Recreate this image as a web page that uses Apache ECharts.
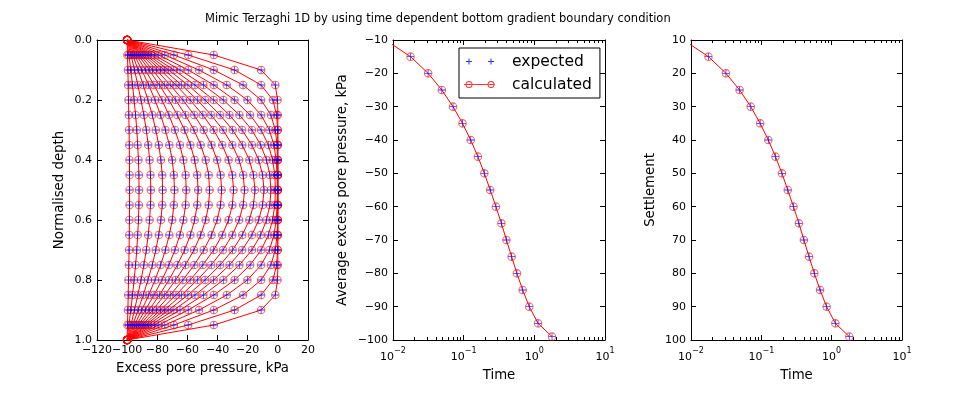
<!DOCTYPE html>
<html><head><meta charset="utf-8">
<script src="https://cdn.jsdelivr.net/npm/echarts@6/dist/echarts.min.js"></script>
<style>html,body{margin:0;padding:0;background:#fff;}#chart{width:960px;height:400px;}</style>
</head><body><div id="chart"></div>
<script>
// ---------- data ----------
const depth = [0,0.05,0.1,0.15,0.2,0.25,0.3,0.35,0.4,0.45,0.5,0.55,0.6,0.65,0.7,0.75,0.8,0.85,0.9,0.95,1.0];
const iso01 = [-100,-42.5,-11.1,-1.7,-0.2,0,0,0,0,0,0,0,0,0,0,0,-0.2,-1.7,-11.1,-42.5,-100];
const iso02 = [-100,-59.5,-28.7,-11.1,-3.3,-0.8,-0.2,0,0,0,0,0,0,0,-0.2,-0.8,-3.3,-11.1,-28.7,-59.5,-100];
const iso03 = [-100,-69.0,-42.5,-23.1,-11.1,-4.6,-1.7,-0.5,-0.2,0,0,0,-0.2,-0.5,-1.7,-4.6,-11.1,-23.1,-42.5,-69.0,-100];
const iso04 = [-100,-75.0,-52.3,-33.9,-20.2,-11.1,-5.6,-2.6,-1.1,-0.5,-0.3,-0.5,-1.1,-2.6,-5.6,-11.1,-20.2,-33.9,-52.3,-75.0,-100];
const iso05 = [-100,-79.0,-59.5,-42.5,-28.7,-18.4,-11.1,-6.3,-3.5,-2.0,-1.6,-2.0,-3.5,-6.3,-11.1,-18.4,-28.7,-42.5,-59.5,-79.0,-100];
const iso06 = [-100,-82.0,-64.9,-49.4,-36.2,-25.5,-17.2,-11.4,-7.5,-5.3,-4.6,-5.3,-7.5,-11.4,-17.2,-25.5,-36.2,-49.4,-64.9,-82.0,-100];
const iso07 = [-100,-84.2,-69.0,-55.0,-42.6,-32.1,-23.7,-17.2,-12.7,-10.1,-9.2,-10.1,-12.7,-17.2,-23.7,-32.1,-42.6,-55.0,-69.0,-84.2,-100];
const iso08 = [-100,-86.0,-72.4,-59.7,-48.3,-38.3,-30.0,-23.6,-18.9,-16.2,-15.2,-16.2,-18.9,-23.6,-30.0,-38.3,-48.3,-59.7,-72.4,-86.0,-100];
const iso09 = [-100,-87.5,-75.3,-63.9,-53.4,-44.2,-36.4,-30.2,-25.7,-23.0,-22.1,-23.0,-25.7,-30.2,-36.4,-44.2,-53.4,-63.9,-75.3,-87.5,-100];
const iso10 = [-100,-88.8,-77.9,-67.6,-58.2,-49.8,-42.6,-36.9,-32.7,-30.2,-29.4,-30.2,-32.7,-36.9,-42.6,-49.8,-58.2,-67.6,-77.9,-88.8,-100];
const iso11 = [-100,-90.1,-80.5,-71.4,-63.0,-55.5,-49.2,-44.0,-40.3,-38.0,-37.3,-38.0,-40.3,-44.0,-49.2,-55.5,-63.0,-71.4,-80.5,-90.1,-100];
const iso12 = [-100,-91.4,-83.1,-75.1,-67.8,-61.3,-55.7,-51.2,-47.9,-45.9,-45.3,-45.9,-47.9,-51.2,-55.7,-61.3,-67.8,-75.1,-83.1,-91.4,-100];
const iso13 = [-100,-92.6,-85.4,-78.6,-72.3,-66.7,-61.9,-58.0,-55.2,-53.5,-52.9,-53.5,-55.2,-58.0,-61.9,-66.7,-72.3,-78.6,-85.4,-92.6,-100];
const iso14 = [-100,-93.9,-87.9,-82.2,-76.9,-72.3,-68.3,-65.0,-62.7,-61.2,-60.8,-61.2,-62.7,-65.0,-68.3,-72.3,-76.9,-82.2,-87.9,-93.9,-100];
const iso15 = [-100,-95.1,-90.3,-85.7,-81.5,-77.8,-74.6,-72.0,-70.1,-69.0,-68.6,-69.0,-70.1,-72.0,-74.6,-77.8,-81.5,-85.7,-90.3,-95.1,-100];
const iso16 = [-100,-96.3,-92.7,-89.3,-86.2,-83.3,-81.0,-79.0,-77.6,-76.7,-76.5,-76.7,-77.6,-79.0,-81.0,-83.3,-86.2,-89.3,-92.7,-96.3,-100];
const iso17 = [-100,-97.5,-95.1,-92.9,-90.8,-88.9,-87.3,-86.0,-85.1,-84.5,-84.3,-84.5,-85.1,-86.0,-87.3,-88.9,-90.8,-92.9,-95.1,-97.5,-100];
const iso18 = [-100,-98.8,-97.6,-96.4,-95.4,-94.4,-93.6,-93.0,-92.5,-92.2,-92.1,-92.2,-92.5,-93.0,-93.6,-94.4,-95.4,-96.4,-97.6,-98.8,-100];
const iso19 = [-100,-99.8,-99.5,-99.3,-99.1,-98.9,-98.7,-98.6,-98.5,-98.4,-98.4,-98.4,-98.5,-98.6,-98.7,-98.9,-99.1,-99.3,-99.5,-99.8,-100];

const times = [0.00785,0.0177,0.0314,0.0491,0.0707,0.0962,0.1257,0.159,0.1963,0.2376,0.2864,0.342,0.403,0.477,0.567,0.684,0.848,1.129,1.781];
const avgExpected   = [-10,-15,-20,-25,-30,-35,-40,-45,-50,-55,-60,-65,-70,-75,-80,-85,-90,-95,-99];
const avgCalculated = [-10,-15,-20,-25,-30,-35,-40,-45,-50,-55,-60,-65,-70,-75,-80,-85,-90,-95,-99];
const settlementExpected   = [10,15,20,25,30,35,40,45,50,55,60,65,70,75,80,85,90,95,99];
const settlementCalculated = [10,15,20,25,30,35,40,45,50,55,60,65,70,75,80,85,90,95,99];
const logMinorTicks = [0.02,0.03,0.04,0.05,0.06,0.07,0.08,0.09,0.2,0.3,0.4,0.5,0.6,0.7,0.8,0.9,2,3,4,5,6,7,8,9];

// ---------- styling ----------
const FONT = 'DejaVu Sans';
const TICK_FS = 11;
const NAME_FS = 13.3;
const PLUS = 'path://M4,0h1v4h4v1h-4v4h-1v-4h-4v-1h4z';
const LEG_PLUS = 'path://M2,4h6v1h-6z M4.5,1.5h1v6h-1z M24,4h6v1h-6z M26.5,1.5h1v6h-1z M42.9,0h0.1v0.1h-0.1z M0,8.9h0.1v0.1h-0.1z';
const LEG_CIRC = 'path://M1.5,4.5a3.5,3.5 0 1,0 7,0a3.5,3.5 0 1,0 -7,0z M2.5,4.5a2.5,2.5 0 1,1 5,0a2.5,2.5 0 1,1 -5,0z ' +
  'M23.5,4.5a3.5,3.5 0 1,0 7,0a3.5,3.5 0 1,0 -7,0z M24.5,4.5a2.5,2.5 0 1,1 5,0a2.5,2.5 0 1,1 -5,0z ' +
  'M0,4h1.5v1h-1.5z M2.6,4h4.8v1h-4.8z M8.5,4h15v1h-15z M24.6,4h4.8v1h-4.8z M30.5,4h0.5v1h-0.5z M42.9,0h0.1v0.1h-0.1z M0,8.9h0.1v0.1h-0.1z';

const minusFmt = v => (v < 0 ? '\u2212' + Math.abs(v) : String(v));
const logFmt = v => { const e = Math.round(Math.log10(v)); return '{b|10}{s|' + (e < 0 ? '\u2212' : '') + Math.abs(e) + '}'; };
const logRich = { b: {fontFamily: FONT, fontSize: TICK_FS, color:'#000', lineHeight: 16, verticalAlign:'bottom'},
                  s: {fontFamily: FONT, fontSize: 8, color:'#000', lineHeight: 8, verticalAlign:'top'} };

function axis(grid, pos, cfg) {
  const main = (pos === 'bottom' || pos === 'left');
  const a = {
    gridIndex: grid, position: pos, type: cfg.type || 'value',
    min: cfg.min, max: cfg.max, inverse: !!cfg.inverse,
    axisLine: {show: true, onZero: false, lineStyle: {color: '#000', width: 1}},
    axisTick: {show: true, inside: true, length: 5, lineStyle: {color: '#000', width: 1}},
    axisLabel: {show: main, color: '#000', fontFamily: FONT, fontSize: TICK_FS, margin: cfg.margin || 5},
    splitLine: {show: false},
    name: main ? cfg.name : '', nameLocation: 'middle', nameGap: cfg.nameGap,
    nameTextStyle: {fontFamily: FONT, fontSize: NAME_FS, color: '#000'}
  };
  if (cfg.type === 'log') { a.logBase = 10; a.splitNumber = 3; }
  else { a.interval = cfg.interval; }
  if (cfg.formatter) a.axisLabel.formatter = cfg.formatter;
  if (cfg.rich) a.axisLabel.rich = cfg.rich;
  return a;
}

const xCfg = [
  {min: -120, max: 20, interval: 20, name: 'Excess pore pressure, kPa', nameGap: 22, formatter: minusFmt},
  {type: 'log', min: 0.01, max: 10, name: 'Time', nameGap: 29, formatter: logFmt, rich: logRich, margin: 7},
  {type: 'log', min: 0.01, max: 10, name: 'Time', nameGap: 29, formatter: logFmt, rich: logRich, margin: 7}
];
const yCfg = [
  {min: 0, max: 1, interval: 0.2, inverse: true, name: 'Normalised depth', nameGap: 31, formatter: v => v.toFixed(1)},
  {min: -100, max: -10, interval: 10, name: 'Average excess pore pressure, kPa', nameGap: 44, formatter: minusFmt},
  {min: 10, max: 100, interval: 10, inverse: true, name: 'Settlement', nameGap: 34}
];
const xAxes = [], yAxes = [];
for (let g = 0; g < 3; g++) {
  xAxes.push(axis(g, 'bottom', xCfg[g]));
  xAxes.push(axis(g, 'top', xCfg[g]));
  yAxes.push(axis(g, 'left', yCfg[g]));
  yAxes.push(axis(g, 'right', yCfg[g]));
}

const calcStyle = {
  type: 'line', symbol: 'circle', symbolSize: 7.5, showSymbol: true,
  itemStyle: {color: 'rgba(255,255,255,0)', borderColor: 'rgba(255,0,0,0.6)', borderWidth: 1.1},
  lineStyle: {color: '#ff0000', width: 1}, z: 2, clip: true, animation: false
};
const expStyle = {
  type: 'scatter', symbol: PLUS, symbolSize: 7,
  itemStyle: {color: '#0000ff'}, z: 3, clip: true, animation: false
};

const series = [];
const isochrones = [iso01,iso02,iso03,iso04,iso05,iso06,iso07,iso08,iso09,iso10,iso11,iso12,iso13,iso14,iso15,iso16,iso17,iso18,iso19];
isochrones.forEach((iso, k) => {
  const pts = iso.map((p, i) => [p, depth[i]]);
  // expected markers are only visible at interior depths
  series.push(Object.assign({}, expStyle, {name: 'expected isochrone ' + (k + 1), xAxisIndex: 0, yAxisIndex: 0, data: pts.slice(1, pts.length - 1)}));
  series.push(Object.assign({}, calcStyle, {name: 'calculated isochrone ' + (k + 1), xAxisIndex: 0, yAxisIndex: 0, data: pts}));
});
series.push(Object.assign({}, expStyle, {name: 'expected', xAxisIndex: 2, yAxisIndex: 2, data: times.map((t, i) => [t, avgExpected[i]])}));
series.push(Object.assign({}, calcStyle, {name: 'calculated', xAxisIndex: 2, yAxisIndex: 2, data: times.map((t, i) => [t, avgCalculated[i]])}));
series.push(Object.assign({}, expStyle, {name: 'expected settlement', xAxisIndex: 4, yAxisIndex: 4, data: times.map((t, i) => [t, settlementExpected[i]])}));
series.push(Object.assign({}, calcStyle, {name: 'calculated settlement', xAxisIndex: 4, yAxisIndex: 4, data: times.map((t, i) => [t, settlementCalculated[i]])}));

function minorTickSeries(xi, yi, yA, yB) {
  return {
    type: 'custom', xAxisIndex: xi, yAxisIndex: yi, clip: false, silent: true, animation: false, z: 5,
    data: logMinorTicks.map(v => [v, (yA + yB) / 2]),
    renderItem: (params, api) => {
      const v = api.value(0);
      const p1 = api.coord([v, yA]), p2 = api.coord([v, yB]);
      const top = Math.min(p1[1], p2[1]), bot = Math.max(p1[1], p2[1]);
      const x = Math.round(p1[0]) + 0.5;
      return {type: 'group', children: [
        {type: 'line', shape: {x1: x, y1: bot, x2: x, y2: bot - 3}, style: {stroke: '#000', lineWidth: 1}},
        {type: 'line', shape: {x1: x, y1: top, x2: x, y2: top + 3}, style: {stroke: '#000', lineWidth: 1}}
      ]};
    }
  };
}
series.push(minorTickSeries(2, 2, -100, -10));
series.push(minorTickSeries(4, 4, 10, 100));

const option = {
  animation: false,
  backgroundColor: '#fff',
  title: {text: 'Mimic Terzaghi 1D by using time dependent bottom gradient boundary condition',
          left: 200, top: 8, textStyle: {fontFamily: FONT, fontSize: 11.5, fontWeight: 'normal', color: '#000'}},
  grid: [
    {left: 97, top: 40, width: 211, height: 300},
    {left: 393, top: 40, width: 212, height: 300},
    {left: 691, top: 40, width: 211, height: 300}
  ],
  xAxis: xAxes, yAxis: yAxes,
  legend: {
    left: 459, top: 48, orient: 'vertical', itemWidth: 43, itemHeight: 9, itemGap: 7,
    padding: [5.5, 8, 5.5, 5], borderColor: '#000', borderWidth: 1, borderRadius: 0, backgroundColor: '#fff',
    textStyle: {fontFamily: FONT, fontSize: 15.5, color: '#000'},
    selectedMode: false,
    data: [
      {name: 'expected', icon: LEG_PLUS, itemStyle: {color: '#0000ff', borderWidth: 0}},
      {name: 'calculated', icon: LEG_CIRC, itemStyle: {color: '#ff3333', borderWidth: 0}}
    ]
  },
  series: series
};
const chart = echarts.init(document.getElementById('chart'), null, {renderer: 'canvas'});
chart.setOption(option);
</script></body></html>
